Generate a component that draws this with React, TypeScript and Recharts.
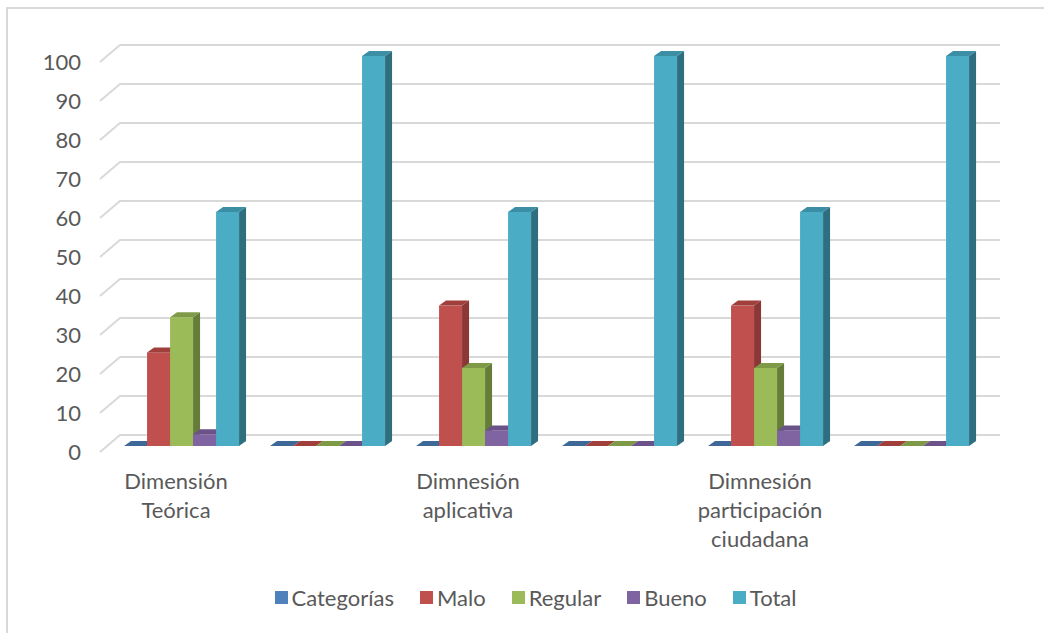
import React from "react";
import { BarChart, Bar, XAxis, YAxis, CartesianGrid, Legend } from "recharts";

const categoryLines: string[][] = [
  ["Dimensión", "Teórica"],
  [],
  ["Dimnesión", "aplicativa"],
  [],
  ["Dimnesión", "participación", "ciudadana"],
  [],
];
const seriesNames = ["Categorías", "Malo", "Regular", "Bueno", "Total"];
const categorias = [0, 0, 0, 0, 0, 0];
const malo = [24, 0, 36, 0, 36, 0];
const regular = [33, 0, 20, 0, 20, 0];
const bueno = [3, 0, 4, 0, 4, 0];
const total = [60, 100, 60, 100, 60, 100];
const yTicks = [0, 10, 20, 30, 40, 50, 60, 70, 80, 90, 100];

const seriesValues = [categorias, malo, regular, bueno, total];
const frontColors = ["#4F81BD", "#C0504D", "#9BBB59", "#8064A2", "#4BACC6"];
const sideColors = ["#385D8A", "#8A3735", "#667D3A", "#5C4776", "#2F6E7F"];
const topColors = ["#3E6898", "#A03F3C", "#7E9A47", "#6B538A", "#3B8EA4"];

const data = categoryLines.map((lines, i) => {
  const row: Record<string, any> = { name: String(i) };
  seriesNames.forEach((s, k) => {
    row[s] = seriesValues[k][i];
  });
  return row;
});

const FONT = "Lato, 'Open Sans', sans-serif";
const DX = 7;
const DY = 5;

const make3D = (k: number) => (props: any) => {
  const { x, y, width, height } = props;
  if (x == null || y == null) return <g />;
  const w = width;
  const h = Math.max(0, height || 0);
  return (
    <g>
      {h > 0 && <rect x={x} y={y} width={w} height={h} fill={frontColors[k]} />}
      {h > 0 && (
        <polygon
          points={`${x + w},${y} ${x + w + DX},${y - DY} ${x + w + DX},${y + h - DY} ${x + w},${y + h}`}
          fill={sideColors[k]}
        />
      )}
      <polygon
        points={`${x},${y} ${x + DX},${y - DY} ${x + w + DX},${y - DY} ${x + w},${y}`}
        fill={topColors[k]}
      />
    </g>
  );
};

const gridLine = (props: any) => {
  const { x1, y1, x2, index } = props;
  return (
    <path
      key={`g-${index}-${y1}`}
      d={`M${x1 - 8},${y1 + 6} L${x1 + 12},${y1 - 11} L${x2 + 16},${y1 - 11}`}
      stroke="#d9d9d9"
      strokeWidth={2}
      fill="none"
    />
  );
};

const YTick = (props: any) => {
  const { y, payload } = props;
  return (
    <text x={81} y={y + 6} dy="0.35em" textAnchor="end" fontFamily={FONT} fontSize={22} fill="#595959">
      {payload.value}
    </text>
  );
};

const XTick = (props: any) => {
  const { x, payload } = props;
  const lines = categoryLines[Number(payload.value)] || [];
  return (
    <text x={x - 5} y={489} textAnchor="middle" fontFamily={FONT} fontSize={22} fill="#595959">
      {lines.map((l, i) => (
        <tspan key={i} x={x - 5} dy={i === 0 ? 0 : 29}>
          {l}
        </tspan>
      ))}
    </text>
  );
};

const LegendContent = () => (
  <div
    style={{
      display: "flex",
      justifyContent: "center",
      alignItems: "center",
      height: 30,
      fontFamily: FONT,
      fontSize: 22,
      color: "#595959",
      paddingLeft: 27,
    }}
  >
    {seriesNames.map((s, k) => (
      <div key={s} style={{ display: "flex", alignItems: "center", marginLeft: k === 0 ? 0 : 26 }}>
        <div style={{ width: 13, height: 13, background: frontColors[k], marginRight: 4 }} />
        <span>{s}</span>
      </div>
    ))}
  </div>
);

export default function App() {
  return (
    <div style={{ position: "fixed", left: 0, top: 0, width: 1044, height: 633, overflow: "hidden", background: "#fff" }}>
      <div
        style={{
          position: "absolute",
          left: 6,
          top: 7,
          width: 1200,
          height: 800,
          border: "2px solid #d9d9d9",
          boxSizing: "border-box",
        }}
      />
      <div style={{ position: "absolute", left: 0, top: 0 }}>
        <BarChart
          width={1044}
          height={633}
          data={data}
          margin={{ top: 56, right: 60, left: 0, bottom: 0 }}
          barCategoryGap="11%"
          barGap={0}
        >
          <CartesianGrid vertical={false} horizontal={gridLine} />
          <XAxis dataKey="name" axisLine={false} tickLine={false} tick={<XTick />} height={157} interval={0} />
          <YAxis
            domain={[0, 100]}
            ticks={yTicks}
            axisLine={false}
            tickLine={false}
            width={108}
            tick={<YTick />}
            interval={0}
          />
          <Legend
            verticalAlign="bottom"
            content={<LegendContent />}
            wrapperStyle={{ position: "absolute", left: 0, top: 582, width: 1044, height: 30 }}
          />
          {seriesNames.map((s, k) => (
            <Bar key={s} dataKey={s} isAnimationActive={false} shape={make3D(k)} />
          ))}
        </BarChart>
      </div>
    </div>
  );
}
